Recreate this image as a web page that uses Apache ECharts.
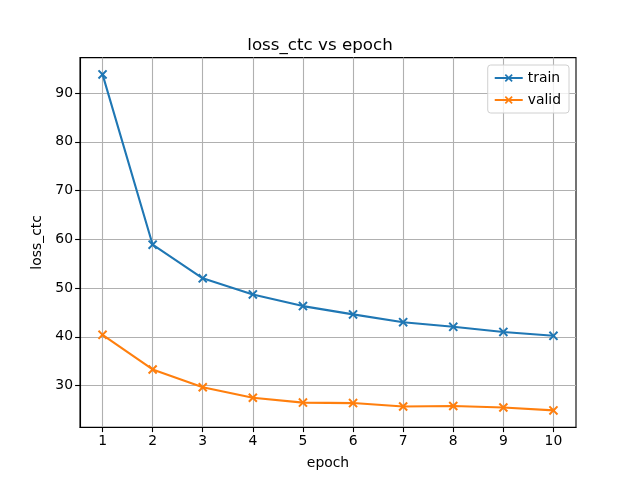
<!DOCTYPE html>
<html><head><meta charset="utf-8">
<script src="https://cdn.jsdelivr.net/npm/echarts@6/dist/echarts.min.js"></script>
<style>html,body{margin:0;padding:0;background:#fff}#c{width:640px;height:480px}</style>
</head><body><div id="c"></div>
<script>
const epochs = [1,2,3,4,5,6,7,8,9,10];
const train = [93.84,58.9,52.0,48.7,46.3,44.6,43.0,42.05,41.0,40.2];
const valid = [40.4,33.3,29.65,27.5,26.5,26.4,25.7,25.8,25.5,24.9];
const xTicks = [1,2,3,4,5,6,7,8,9,10];
const yTicks = [30,40,50,60,70,80,90];

const FONT = 'DejaVu Sans';
const X = 'path://M0,1.5 L1.5,0 L5,3.5 L8.5,0 L10,1.5 L6.5,5 L10,8.5 L8.5,10 L5,6.5 L1.5,10 L0,8.5 L3.5,5 Z';
const chart = echarts.init(document.getElementById('c'), null, {renderer:'canvas'});
function pairs(ys){ return epochs.map((e,i)=>[e, ys[i]]); }
const gridLine = {show:true, lineStyle:{color:'#b0b0b0', width:1.1}};
chart.setOption({
  animation:false,
  backgroundColor:'#fff',
  title:{text:'loss_ctc vs epoch', left:'center', top:32, textStyle:{fontFamily:FONT, fontSize:16.7, fontWeight:'normal', color:'#000'}},
  grid:{left:80, top:57.6, width:496, height:369.6, show:true, borderColor:'#000', borderWidth:1.1, backgroundColor:'transparent'},
  legend:{
    right:71, top:65, orient:'vertical', itemGap:8, itemWidth:28, itemHeight:10,
    padding:[6,8,6,6],
    borderColor:'#d0d0d0', borderWidth:1, borderRadius:3, backgroundColor:'rgba(255,255,255,0.8)',
    textStyle:{fontFamily:FONT, fontSize:13.9, color:'#000'},
    data:[{name:'train'},{name:'valid'}]
  },
  xAxis:{
    type:'value', min:0.55, max:10.45,
    name:'epoch', nameLocation:'middle', nameGap:29,
    nameTextStyle:{fontFamily:FONT, fontSize:13.9, color:'#000'},
    axisLine:{show:true, onZero:false, lineStyle:{color:'#000', width:1.1}},
    axisTick:{show:true, length:4.9, customValues:xTicks, lineStyle:{color:'#000', width:1.1}},
    axisLabel:{customValues:xTicks, margin:7, fontFamily:FONT, fontSize:13.9, color:'#000', showMinLabel:true, showMaxLabel:true},
    splitLine:Object.assign({customValues:xTicks}, gridLine)
  },
  yAxis:{
    type:'value', min:21.45, max:97.29,
    name:'loss_ctc', nameLocation:'middle', nameGap:31,
    nameTextStyle:{fontFamily:FONT, fontSize:13.9, color:'#000'},
    axisLine:{show:true, onZero:false, lineStyle:{color:'#000', width:1.1}},
    axisTick:{show:true, length:4.9, customValues:yTicks, lineStyle:{color:'#000', width:1.1}},
    axisLabel:{customValues:yTicks, margin:7, fontFamily:FONT, fontSize:13.9, color:'#000'},
    splitLine:Object.assign({customValues:yTicks}, gridLine)
  },
  series:[
    {name:'train', type:'line', data:pairs(train), symbol:X, symbolSize:9.5, showAllSymbol:true,
     lineStyle:{color:'#1f77b4', width:2.1}, itemStyle:{color:'#1f77b4'}},
    {name:'valid', type:'line', data:pairs(valid), symbol:X, symbolSize:9.5, showAllSymbol:true,
     lineStyle:{color:'#ff7f0e', width:2.1}, itemStyle:{color:'#ff7f0e'}}
  ]
});
</script></body></html>
